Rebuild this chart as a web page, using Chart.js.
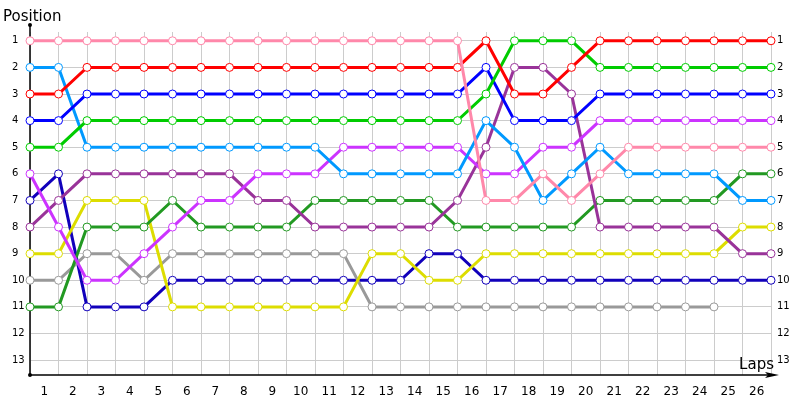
<!DOCTYPE html>
<html lang="en">
<head>
  <meta charset="UTF-8">
  <title>Lap chart</title>
  <script src="https://cdn.jsdelivr.net/npm/chart.js"></script>
  <style>
    body { margin: 0; background: #fff; }
  </style>
</head>
<body>
  <canvas id="lapChart" width="800" height="400"></canvas>
  <script>
    // lap labels sit between the points, positions on both sides
    const lapLabels = ['1','2','3','4','5','6','7','8','9','10','11','12','13',
      '14','15','16','17','18','19','20','21','22','23','24','25','26'];
    const positions = [1,2,3,4,5,6,7,8,9,10,11,12,13];

    // position after each lap boundary (27 points, gray retires after 24)
    const pink      = [1,1,1,1,1,1,1,1,1,1,1,1,1,1,1,1,7,7,6,7,6,5,5,5,5,5,5];
    const red       = [3,3,2,2,2,2,2,2,2,2,2,2,2,2,2,2,1,3,3,2,1,1,1,1,1,1,1];
    const green     = [5,5,4,4,4,4,4,4,4,4,4,4,4,4,4,4,3,1,1,1,2,2,2,2,2,2,2];
    const blue      = [4,4,3,3,3,3,3,3,3,3,3,3,3,3,3,3,2,4,4,4,3,3,3,3,3,3,3];
    const lightBlue = [2,2,5,5,5,5,5,5,5,5,5,6,6,6,6,6,4,5,7,6,5,6,6,6,6,7,7];
    const violet    = [6,8,10,10,9,8,7,7,6,6,6,5,5,5,5,5,6,6,5,5,4,4,4,4,4,4,4];
    const purple    = [8,7,6,6,6,6,6,6,7,7,8,8,8,8,8,7,5,2,2,3,8,8,8,8,8,9,9];
    const darkGreen = [11,11,8,8,8,7,8,8,8,8,7,7,7,7,7,8,8,8,8,8,7,7,7,7,7,6,6];
    const yellow    = [9,9,7,7,7,11,11,11,11,11,11,11,9,9,10,10,9,9,9,9,9,9,9,9,9,8,8];
    const gray      = [10,10,9,9,10,9,9,9,9,9,9,9,11,11,11,11,11,11,11,11,11,11,11,11,11];
    const darkBlue  = [7,6,11,11,11,10,10,10,10,10,10,10,10,10,9,9,10,10,10,10,10,10,10,10,10,10,10];

    const FONT = 'DejaVu Sans';
    Chart.defaults.font.family = FONT;

    function series(values, color) {
      return {
        data: values.map((v, i) => ({ x: i, y: v })),
        borderColor: color,
        borderWidth: 3,
        pointRadius: 4,
        pointBorderWidth: 1,
        pointBorderColor: color,
        pointBackgroundColor: '#ffffff',
        tension: 0,
        clip: false
      };
    }

    // axis lines, arrow and the two axis captions
    const axisDecor = {
      id: 'axisDecor',
      beforeDatasetsDraw(chart) {
        const { ctx, chartArea: a } = chart;
        ctx.save();
        ctx.strokeStyle = '#000';
        ctx.fillStyle = '#000';
        ctx.lineWidth = 1.5;
        ctx.beginPath();
        ctx.moveTo(a.left, a.top - 7);
        ctx.lineTo(a.left, a.bottom);
        ctx.lineTo(a.right + 2, a.bottom);
        ctx.stroke();
        ctx.beginPath();
        ctx.moveTo(a.right + 8, a.bottom);
        ctx.lineTo(a.right - 6, a.bottom - 3);
        ctx.lineTo(a.right - 3, a.bottom);
        ctx.lineTo(a.right - 6, a.bottom + 3);
        ctx.closePath();
        ctx.fill();
        ctx.beginPath();
        ctx.arc(a.left, a.top - 7, 2, 0, Math.PI * 2);
        ctx.arc(a.left, a.bottom, 2, 0, Math.PI * 2);
        ctx.fill();
        ctx.font = '15px ' + FONT;
        ctx.textBaseline = 'alphabetic';
        ctx.textAlign = 'left';
        ctx.fillText('Position', 3, 21);
        ctx.textAlign = 'right';
        ctx.fillText('Laps', a.right + 3, 369);
        ctx.restore();
      }
    };

    const yCommon = {
      type: 'linear',
      min: 0.67,
      max: 13.56,
      reverse: true,
      afterBuildTicks: axis => { axis.ticks = positions.map(v => ({ value: v })); },
      border: { display: false }
    };

    const ctx = document.getElementById('lapChart').getContext('2d');
    new Chart(ctx, {
      type: 'line',
      data: {
        datasets: [
          series(pink, '#ff88aa'),
          series(red, '#ff0000'),
          series(green, '#00cc00'),
          series(blue, '#0000ff'),
          series(lightBlue, '#0099ff'),
          series(violet, '#cc33ff'),
          series(purple, '#993399'),
          series(darkGreen, '#229922'),
          series(yellow, '#dddd00'),
          series(gray, '#999999'),
          series(darkBlue, '#1100bb')
        ]
      },
      options: {
        responsive: false,
        animation: false,
        devicePixelRatio: 1,
        layout: { padding: { left: 12, top: 32, right: 0, bottom: 0 } },
        plugins: { legend: { display: false }, tooltip: { enabled: false } },
        scales: {
          x: {
            type: 'linear',
            min: 0,
            max: 26,
            afterBuildTicks: axis => {
              axis.ticks = lapLabels.map((l, i) => ({ value: i + 0.5 }));
            },
            afterFit: axis => { axis.height = 25; },
            grid: { display: false },
            border: { display: false },
            ticks: {
              autoSkip: false,
              maxRotation: 0,
              padding: 2,
              color: '#000',
              font: { size: 12 },
              callback: (v, i) => lapLabels[i]
            }
          },
          xg: {
            type: 'linear',
            position: 'bottom',
            min: 0,
            max: 26,
            afterBuildTicks: axis => {
              axis.ticks = [{ value: 0 }].concat(lapLabels.map((l, i) => ({ value: i + 1 })));
            },
            afterFit: axis => { axis.height = 0; },
            ticks: { display: false },
            grid: { color: '#cccccc', drawTicks: false },
            border: { display: false }
          },
          y: Object.assign({}, yCommon, {
            position: 'left',
            afterFit: axis => { axis.width = 18; },
            grid: { color: '#cccccc', drawTicks: false },
            ticks: { color: '#000', font: { size: 10 }, crossAlign: 'far', padding: 0 }
          }),
          y2: Object.assign({}, yCommon, {
            position: 'right',
            afterFit: axis => { axis.width = 29; },
            grid: { display: false, drawTicks: false },
            ticks: { color: '#000', font: { size: 10 }, crossAlign: 'near', padding: 6 }
          })
        }
      },
      plugins: [axisDecor]
    });
  </script>
</body>
</html>
